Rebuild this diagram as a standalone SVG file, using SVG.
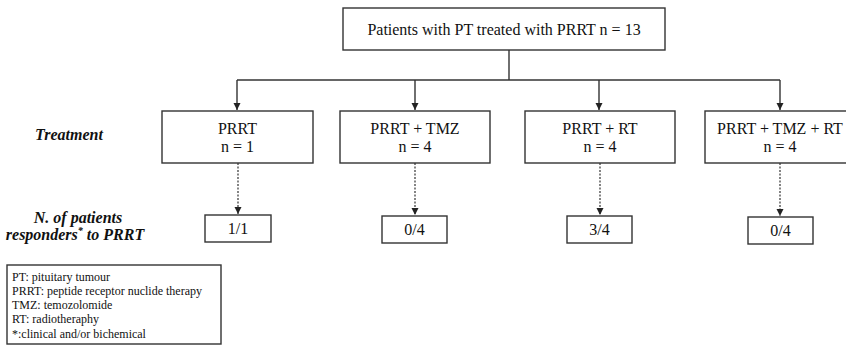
<svg xmlns="http://www.w3.org/2000/svg" width="846" height="346" viewBox="0 0 846 346">
<style>
.box{fill:#fff;stroke:#333;stroke-width:1.4}
.t{font-size:16px;text-anchor:middle}
.lab{font-size:16px;font-weight:bold;font-style:italic;text-anchor:middle}
.leg{font-size:12px}
.ln{stroke:#333;stroke-width:1.4;fill:none}
.dash{stroke:#333;stroke-width:1.2;fill:none;stroke-dasharray:2 1.5}
</style>
<defs>
<marker id="ah" markerWidth="8" markerHeight="8" refX="7" refY="4" orient="auto" markerUnits="userSpaceOnUse">
<path d="M0,0.5 L7,4 L0,7.5 z" fill="#222"/>
</marker>
</defs>
<rect width="846" height="346" fill="#fff"/>
<g id="connectors">
<path class="ln" d="M509,50 V80"/>
<path class="ln" d="M237,80 H780"/>
<path class="ln" d="M237,80 V110" marker-end="url(#ah)"/>
<path class="ln" d="M415,80 V110" marker-end="url(#ah)"/>
<path class="ln" d="M599,80 V110" marker-end="url(#ah)"/>
<path class="ln" d="M780,80 V110" marker-end="url(#ah)"/>
<path class="dash" d="M238,163 V214" marker-end="url(#ah)"/>
<path class="dash" d="M415,163 V215" marker-end="url(#ah)"/>
<path class="dash" d="M600,163 V215" marker-end="url(#ah)"/>
<path class="dash" d="M780,163 V216" marker-end="url(#ah)"/>
</g>
<g font-family="'Liberation Serif', 'DejaVu Serif', serif" fill="#111">
<g id="root">
<rect class="box" x="343" y="8" width="322" height="42"/>
<text class="t" x="504" y="35">Patients with PT treated with PRRT n = 13</text>
</g>
<g id="label-treatment"><text class="lab" x="69" y="140">Treatment</text></g>
<g id="label-responders">
<text class="lab" x="78" y="223">N. of patients</text>
<text class="lab" x="75" y="240">responders<tspan font-size="10" dy="-6">*</tspan><tspan dy="6"> to PRRT</tspan></text>
</g>
<g id="t1">
<rect class="box" x="162" y="111" width="151" height="52"/>
<text class="t" x="237.5" y="134">PRRT</text>
<text class="t" x="237.5" y="152">n = 1</text>
</g>
<g id="t2">
<rect class="box" x="340" y="111" width="150" height="52"/>
<text class="t" x="415" y="134">PRRT + TMZ</text>
<text class="t" x="415" y="152">n = 4</text>
</g>
<g id="t3">
<rect class="box" x="525" y="111" width="150" height="52"/>
<text class="t" x="600" y="134">PRRT + RT</text>
<text class="t" x="600" y="152">n = 4</text>
</g>
<g id="t4">
<rect class="box" x="705" y="111" width="152" height="52"/>
<text class="t" x="780" y="134">PRRT + TMZ + RT</text>
<text class="t" x="780" y="152">n = 4</text>
</g>
<g id="r1">
<rect class="box" x="205" y="215" width="66" height="27"/>
<text class="t" x="238" y="234">1/1</text>
</g>
<g id="r2">
<rect class="box" x="382" y="216" width="65" height="27"/>
<text class="t" x="414.5" y="235">0/4</text>
</g>
<g id="r3">
<rect class="box" x="567" y="216" width="65" height="27"/>
<text class="t" x="599.5" y="235">3/4</text>
</g>
<g id="r4">
<rect class="box" x="748" y="217" width="65" height="27"/>
<text class="t" x="780.5" y="236">0/4</text>
</g>
<g id="legend">
<rect class="box" x="7" y="265" width="214" height="79"/>
<text class="leg" x="12" y="281">PT: pituitary tumour</text>
<text class="leg" x="12" y="295">PRRT: peptide receptor nuclide therapy</text>
<text class="leg" x="12" y="309">TMZ: temozolomide</text>
<text class="leg" x="12" y="323">RT: radiotheraphy</text>
<text class="leg" x="12" y="338">*:clinical and/or bichemical</text>
</g>
</g>
</svg>
